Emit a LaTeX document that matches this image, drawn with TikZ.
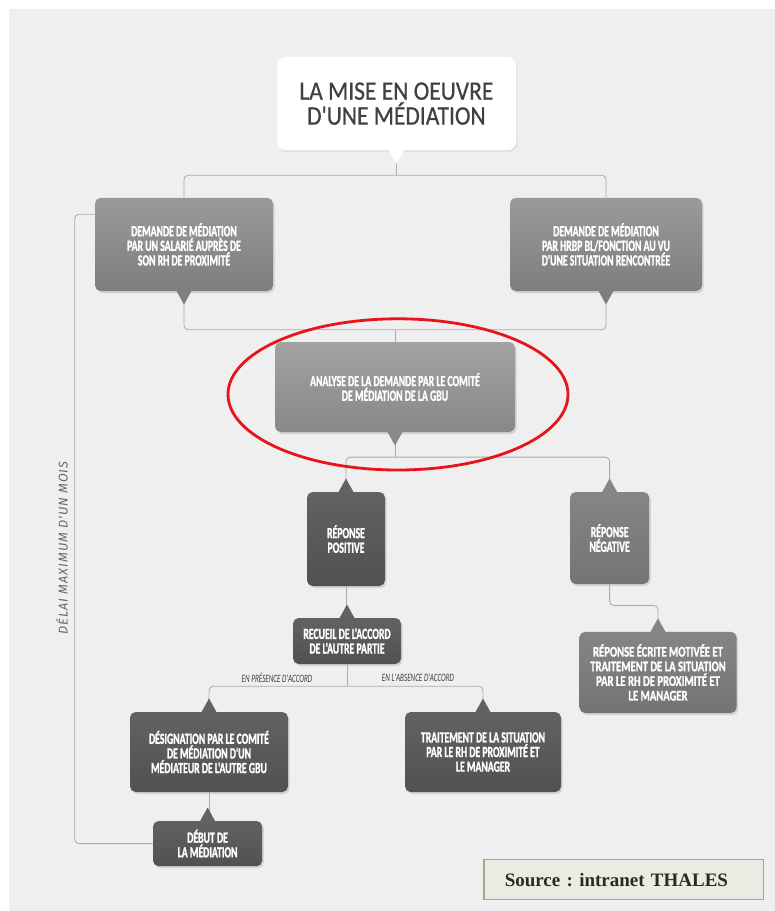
\documentclass[tikz,border=0pt]{standalone}
\usepackage{fontspec}
\setmainfont{Carlito}
\newfontfamily\boxfont[FakeStretch=0.63, FakeBold=1.2]{Carlito}
\newfontfamily\widefont[FakeStretch=0.72, FakeBold=1.2]{Carlito}
\newfontfamily\labelfont[FakeStretch=0.63]{Carlito}
\newfontfamily\titlefont[FakeStretch=0.88, FakeBold=0.6]{Carlito}
\newfontfamily\notefont[LetterSpace=8]{Fira Sans}
\newfontfamily\srcfont{Liberation Serif}
\usepackage{xcolor}
\usepackage{tikz}
\usetikzlibrary{calc, shadows}

\definecolor{panel}{HTML}{EFEFEF}
\definecolor{linkgray}{HTML}{ABABAB}
\definecolor{midtop}{HTML}{9A9A9A}
\definecolor{midbot}{HTML}{7E7E7E}
\definecolor{lighttop}{HTML}{A2A2A2}
\definecolor{lightbot}{HTML}{888888}
\definecolor{greytop}{HTML}{858585}
\definecolor{greybot}{HTML}{747474}
\definecolor{darktop}{HTML}{626262}
\definecolor{darkbot}{HTML}{515151}
\definecolor{titletext}{HTML}{404040}
\definecolor{srcfill}{HTML}{ECEBE3}
\definecolor{srcdraw}{HTML}{A9A687}
\definecolor{srctext}{HTML}{2B2A22}
\definecolor{ringred}{HTML}{E8141B}

% speech-bubble tips under / above a box
\newcommand{\tipdown}[2]{\fill[#2] ($(#1.south)+(-0.2,0.03)$) -- ($(#1.south)+(0,-0.33)$) -- ($(#1.south)+(0.2,0.03)$) -- cycle;}
\newcommand{\tipup}[2]{\fill[#2] ($(#1.north)+(-0.2,-0.03)$) -- ($(#1.north)+(0,0.33)$) -- ($(#1.north)+(0.2,-0.03)$) -- cycle;}

\begin{document}
\begin{tikzpicture}[
    box/.style={rectangle, rounded corners=4pt, text=white, align=center, inner sep=2pt,
      font=\boxfont\bfseries\fontsize{11}{10.4}\selectfont,
      drop shadow={opacity=0.25, shadow xshift=0.04, shadow yshift=-0.05}},
    midbox/.style={box, top color=midtop, bottom color=midbot},
    lightbox/.style={box, top color=lighttop, bottom color=lightbot},
    greybox/.style={box, top color=greytop, bottom color=greybot},
    darkbox/.style={box, top color=darktop, bottom color=darkbot},
    titlebox/.style={rectangle, rounded corners=6pt, fill=white, text=titletext, align=center,
      font=\titlefont\fontsize{19}{17.7}\selectfont,
      drop shadow={opacity=0.12, shadow xshift=0.03, shadow yshift=-0.05}},
    link/.style={draw=linkgray, line width=0.6pt, rounded corners=3pt},
    note/.style={text=titletext, font=\labelfont\itshape\fontsize{8}{9}\selectfont},
    delay/.style={text=black!60, font=\notefont\itshape\fontsize{9}{10}\selectfont},
    ring/.style={draw=ringred, line width=2pt},
    source/.style={rectangle, draw=srcdraw, fill=srcfill, line width=0.8pt, text=srctext,
      font=\srcfont\bfseries\frenchspacing\fontsize{13.5}{15}\selectfont, align=left,
      text width=5.94cm, inner xsep=0.52cm, minimum height=1cm}
  ]

    % Page and panel
    \useasboundingbox (0,0) rectangle (19.375,-22.775);
    \fill[white] (0,0) rectangle (19.375,-22.775);
    \fill[panel] (0.225,-0.225) rectangle (19.375,-22.775);

    % Title and requests
    \node[titlebox, minimum width=5.98cm, minimum height=2.33cm] (title) at (9.91,-2.59) {LA MISE EN OEUVRE\\D'UNE MÉDIATION};
    \node[midbox, minimum width=4.45cm, minimum height=2.33cm] (dleft) at (4.6,-6.11) {DEMANDE DE MÉDIATION\\PAR UN SALARIÉ AUPRÈS DE\\SON RH DE PROXIMITÉ};
    \node[midbox, minimum width=4.8cm, minimum height=2.33cm] (dright) at (15.15,-6.11) {DEMANDE DE MÉDIATION\\PAR HRBP BL/FONCTION AU VU\\D'UNE SITUATION RENCONTRÉE};

    % Analysis
    \node[lightbox, minimum width=6cm, minimum height=2.25cm] (analyse) at (9.875,-9.675) {ANALYSE DE LA DEMANDE PAR LE COMITÉ\\DE MÉDIATION DE LA GBU};

    % Answers
    \node[darkbox, minimum width=1.95cm, minimum height=2.35cm] (positive) at (8.65,-13.475) {RÉPONSE\\POSITIVE};
    \node[greybox, minimum width=1.98cm, minimum height=2.3cm] (negative) at (15.24,-13.45) {RÉPONSE\\NÉGATIVE};
    \node[greybox, minimum width=3.93cm, minimum height=2.03cm, font=\widefont\bfseries\fontsize{10.5}{10.4}\selectfont] (ecrite) at (16.45,-16.81) {RÉPONSE ÉCRITE MOTIVÉE ET\\TRAITEMENT DE LA SITUATION\\PAR LE RH DE PROXIMITÉ ET\\LE MANAGER};
    \node[darkbox, minimum width=2.7cm, minimum height=1.15cm] (recueil) at (8.675,-16.025) {RECUEIL DE L'ACCORD\\DE L'AUTRE PARTIE};

    % Agreement or not
    \node[darkbox, minimum width=3.95cm, minimum height=2cm] (designation) at (5.225,-18.8) {DÉSIGNATION PAR LE COMITÉ\\DE MÉDIATION D'UN\\MÉDIATEUR DE L'AUTRE GBU};
    \node[darkbox, minimum width=3.9cm, minimum height=2cm] (traitement) at (12.075,-18.8) {TRAITEMENT DE LA SITUATION\\PAR LE RH DE PROXIMITÉ ET\\LE MANAGER};
    \node[darkbox, minimum width=2.73cm, minimum height=1.13cm] (debut) at (5.19,-21.09) {DÉBUT DE\\LA MÉDIATION};
    \node[note] (lpres) at (6.925,-16.95) {EN PRÉSENCE D'ACCORD};
    \node[note] (labs) at (10.45,-16.95) {EN L'ABSENCE D'ACCORD};

    % Connectors
    \draw[link] (dleft.north) |- ($(title.south)+(0,-0.62)$) -| (dright.north);
    \draw[link] (title.south) -- ++(0,-0.62);
    \draw[link] (dleft.south) |- ($(analyse.north)+(0,0.3)$) -| (dright.south);
    \draw[link] (analyse.north) -- ++(0,0.3);
    \draw[link] (positive.north) |- ($(analyse.south)+(0,-0.62)$) -| (negative.north);
    \draw[link] (analyse.south) -- ++(0,-0.62);
    \draw[link] (negative.south) -- ++(0,-0.53) -| (ecrite.north);
    \draw[link] (positive.south) -- (positive.south |- recueil.north);
    \draw[link] (designation.north) |- ($(recueil.south)+(0,-0.55)$) -| (traitement.north);
    \draw[link] (recueil.south) -- ++(0,-0.55);
    \draw[link] (designation.south) -- (designation.south |- debut.north);
    \draw[link] ($(dleft.north west)+(0,-0.42)$) -| ($(debut.west)+(-1.95,0)$) -- (debut.west);

    % Tips
    \tipdown{title}{white}
    \tipdown{dleft}{midbot}
    \tipdown{dright}{midbot}
    \tipdown{analyse}{lightbot}
    \tipup{positive}{darktop}
    \tipup{negative}{greytop}
    \tipup{ecrite}{greytop}
    \tipup{recueil}{darktop}
    \tipup{designation}{darktop}
    \tipup{traitement}{darktop}
    \tipup{debut}{darktop}

    % Delay and highlight
    \node[delay, rotate=90] (delai) at (1.55,-13.7) {DÉLAI MAXIMUM D'UN MOIS};
    \draw[ring] (9.95,-9.86) ellipse [x radius=4.25, y radius=1.89];

    % Source
    \node[source] (src) at (15.59,-21.99) {Source : intranet THALES};

  \end{tikzpicture}
\end{document}
